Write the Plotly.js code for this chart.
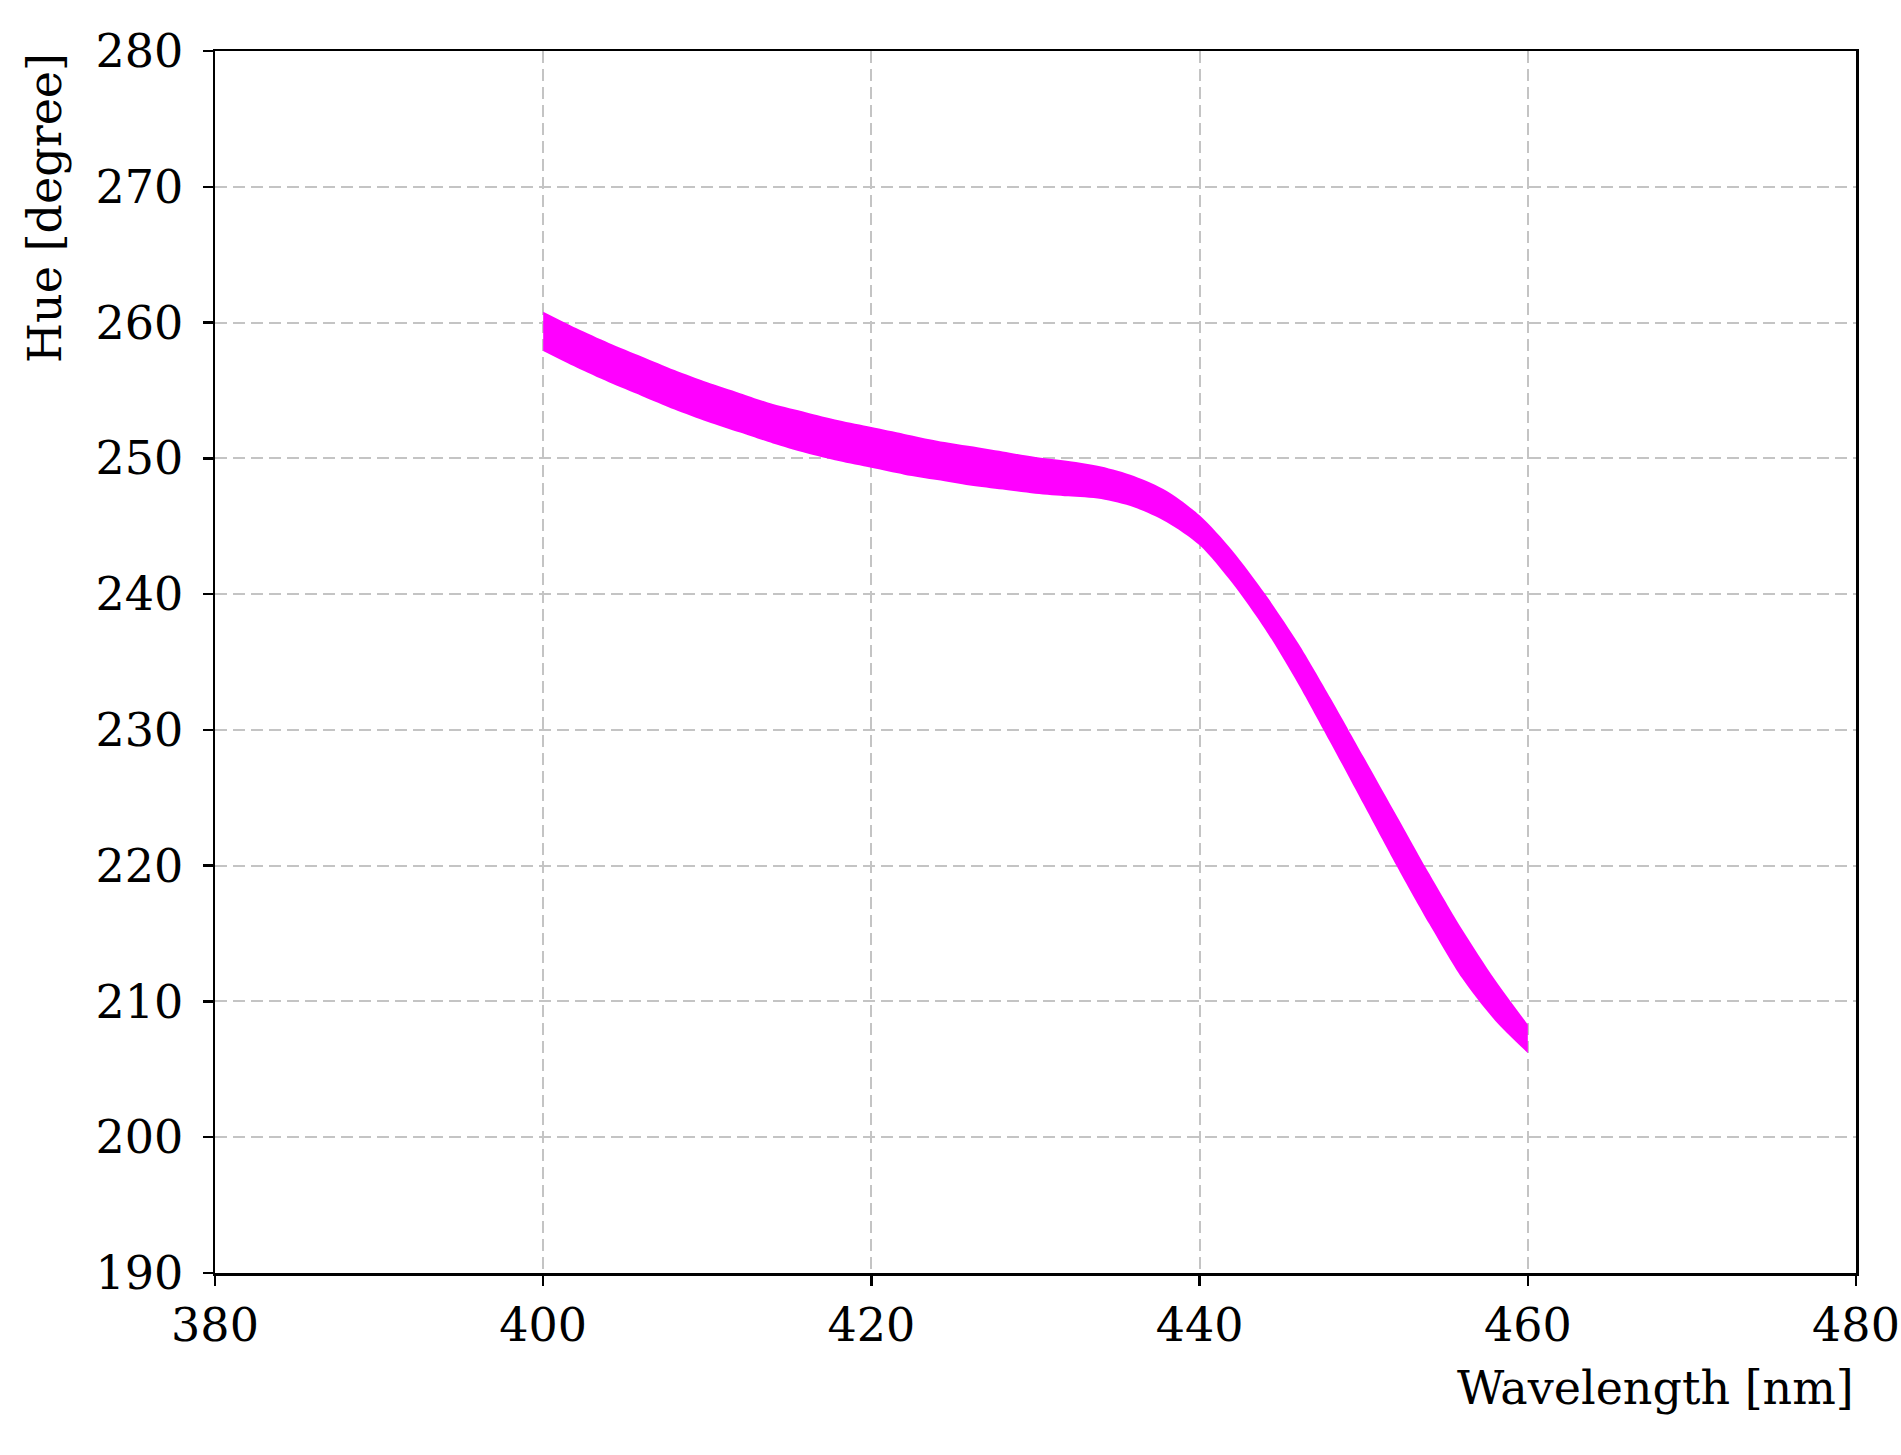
<!DOCTYPE html>
<html>
<head>
<meta charset="utf-8">
<script src="https://cdn.plot.ly/plotly-3.0.1.min.js"></script>
<style>
  html, body { margin: 0; padding: 0; background: white; }
  #chart { width: 1901px; height: 1455px; }
</style>
</head>
<body>
<div id="chart"></div>
<script>
// wavelength samples [nm]
var wavelength = [400, 402, 404, 406, 408, 410, 412, 414, 416, 418, 420,
                  422, 424, 426, 428, 430, 432, 434, 436, 438, 440,
                  442, 444, 446, 448, 450, 452, 454, 456, 458, 460]

// upper and lower edge of the hue band [degree]
var hueUpper = [260.8, 259.6, 258.5, 257.5, 256.5, 255.6, 254.8, 254.0, 253.4, 252.8, 252.3,
                251.8, 251.3, 250.9, 250.5, 250.1, 249.8, 249.4, 248.7, 247.6, 245.8,
                243.2, 240.0, 236.4, 232.3, 228.0, 223.7, 219.4, 215.3, 211.6, 208.3]
var hueLower = [257.9, 256.7, 255.6, 254.6, 253.6, 252.7, 251.9, 251.1, 250.4, 249.8, 249.3,
                248.8, 248.4, 248.0, 247.7, 247.4, 247.2, 247.0, 246.4, 245.3, 243.6,
                240.8, 237.4, 233.4, 229.0, 224.5, 220.0, 215.7, 211.7, 208.6, 206.2]

var xTicks = [380, 400, 420, 440, 460, 480]
var yTicks = [190, 200, 210, 220, 230, 240, 250, 260, 270, 280]

var font = 'DejaVu Serif, serif'
var fontSize = 46

var lower = {
    x: wavelength,
    y: hueLower,
    mode: 'lines',
    line: { width: 0, color: 'magenta', shape: 'spline', smoothing: 0.8 },
    hoverinfo: 'skip'
}
var upper = {
    x: wavelength,
    y: hueUpper,
    mode: 'lines',
    line: { width: 0, color: 'magenta', shape: 'spline', smoothing: 0.8 },
    fill: 'tonexty',
    fillcolor: 'magenta',
    hoverinfo: 'skip'
}

var axisStyle = {
    showline: true,
    linecolor: 'black',
    linewidth: 2.5,
    mirror: true,
    ticks: 'outside',
    ticklen: 10,
    tickwidth: 2.5,
    tickcolor: 'black',
    showgrid: true,
    gridcolor: '#c4c4c4',
    gridwidth: 2,
    griddash: '12px,6px',
    zeroline: false,
    fixedrange: true,
    tickfont: { family: font, size: fontSize, color: 'black' }
}

var layout = {
    width: 1901,
    height: 1455,
    margin: { l: 215, r: 45, t: 51, b: 182 },
    paper_bgcolor: 'white',
    plot_bgcolor: 'white',
    showlegend: false,
    xaxis: Object.assign({}, axisStyle, {
        range: [380, 480],
        tickmode: 'array',
        tickvals: xTicks,
        ticktext: xTicks.map(String)
    }),
    yaxis: Object.assign({}, axisStyle, {
        range: [190, 280],
        tickmode: 'array',
        tickvals: yTicks,
        ticktext: yTicks.map(String),
        ticklabelstandoff: 10
    }),
    annotations: [
        {
            text: 'Wavelength [nm]',
            xref: 'paper', yref: 'paper',
            x: 1, y: 0,
            xanchor: 'right', yanchor: 'top',
            yshift: -86,
            showarrow: false,
            font: { family: font, size: fontSize, color: 'black' }
        },
        {
            text: 'Hue [degree]',
            xref: 'paper', yref: 'paper',
            x: 0, y: 1,
            xanchor: 'center', yanchor: 'top',
            xshift: -170,
            textangle: -90,
            showarrow: false,
            font: { family: font, size: fontSize, color: 'black' }
        }
    ]
}

var config = { responsive: false, displayModeBar: false, staticPlot: true }

Plotly.newPlot('chart', [lower, upper], layout, config)
</script>
</body>
</html>
